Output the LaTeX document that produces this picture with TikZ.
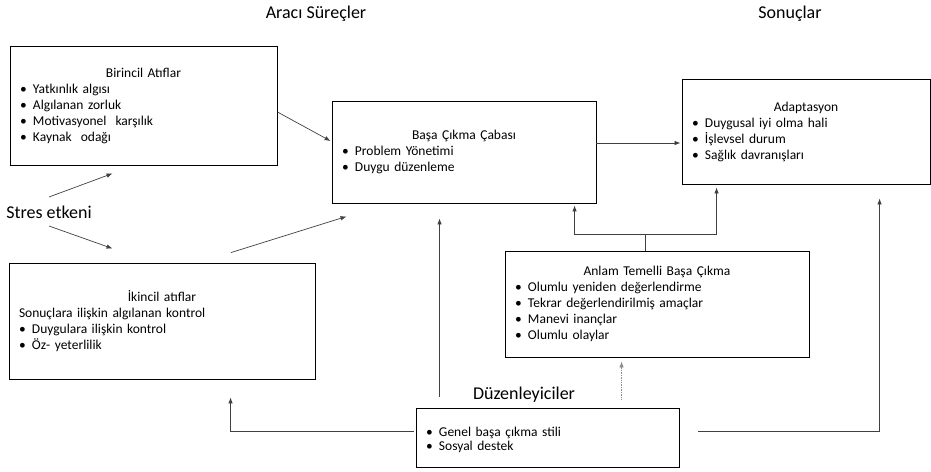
\documentclass[tikz,border=0pt]{standalone}
\usepackage{fontspec}
\setmainfont{Carlito}
\usetikzlibrary{calc, arrows.meta}
\newcommand{\itm}{\par\noindent\makebox[13pt][l]{\textbullet}}
\newcommand{\boxtitle}[1]{{\centering #1\par}}

\begin{document}
\begin{tikzpicture}[x=1pt, y=-1pt,
    block/.style={rectangle, draw, line width=0.9pt, inner xsep=10pt, inner ysep=0pt, align=left, font=\fontsize{13.5}{16}\selectfont},
    head/.style={inner sep=0pt, font=\fontsize{18}{21}\selectfont},
    link/.style={draw, black!75, line width=0.7pt},
    line/.style={link, -{Latex[length=6pt, width=4.5pt]}},
    dotline/.style={draw, black!45, line width=0.7pt, densely dotted, -{Latex[length=6pt, width=4.5pt]}}]

    \useasboundingbox (0,0) rectangle (931,471);

    \node [head] (arac) at (316,14) {Aracı Süreçler};
    \node [head] (sonuc) at (790,14) {Sonuçlar};
    \node [head] (stres) at (49,212) {Stres etkeni};

    \node [block, text width=247pt, minimum height=119pt] (bir) at (143.5,105.5) {\boxtitle{Birincil Atıflar}\itm Yatkınlık algısı\itm Algılanan zorluk\itm Motivasyonel\ \ karşılık\itm Kaynak\ \ odağı};
    \node [block, text width=244pt, minimum height=102pt] (basa) at (464,152) {\boxtitle{Başa Çıkma Çabası}\itm Problem Yönetimi\itm Duygu düzenleme};
    \node [block, text width=228pt, minimum height=105pt] (adapt) at (806,131.5) {\boxtitle{Adaptasyon}\itm Duygusal iyi olma hali\itm İşlevsel durum\itm Sağlık davranışları};
    \node [block, text width=286pt, minimum height=116pt] (ikin) at (162,321) {\boxtitle{İkincil atıflar}Sonuçlara ilişkin algılanan kontrol\itm Duygulara ilişkin kontrol\itm Öz- yeterlilik};
    \node [block, text width=284pt, minimum height=106pt] (anlam) at (657,304) {\boxtitle{Anlam Temelli Başa Çıkma}\itm Olumlu yeniden değerlendirme\itm Tekrar değerlendirilmiş amaçlar\itm Manevi inançlar\itm Olumlu olaylar};
    \node [block, text width=243pt, minimum height=59pt, font=\fontsize{13.5}{14}\selectfont] (duz) at (547.5,437.5) {\itm Genel başa çıkma stili\itm Sosyal destek};
    \node [head] (duzlbl) at (524,395) {Düzenleyiciler};

    \coordinate (split) at ($(anlam.north west)+(141,-16)$);

    \path [line] ($(stres.center)+(0,-15)$) -- ($(bir.south west)+(103,8)$);
    \path [line] ($(stres.center)+(0,14)$) -- ($(ikin.north west)+(104,-14)$);
    \path [line] ($(bir.east)+(0,6.5)$) -- ($(basa.west)+(-1,-11)$);
    \path [line] ($(ikin.north)+(69,-10)$) -- ($(basa.south west)+(15,13)$);
    \path [line] ($(basa.east)+(0,-9)$) -- ($(adapt.west)+(-1,11.5)$);
    \path [link] (anlam.north -| split) -- (split);
    \path [line] (split) -| ($(basa.south west)+(243,2)$);
    \path [line] (split) -| ($(adapt.south west)+(35,3)$);
    \path [line] ($(duz.north west)+(24,-11)$) -- ($(basa.south west)+(108,15)$);
    \path [dotline] ($(duz.north west)+(206,-8)$) -- ($(anlam.south west)+(117,4)$);
    \path [line] ($(duz.west)+(-2,-6)$) -| ($(ikin.south west)+(222,18)$);
    \path [line] ($(duz.east)+(19,-6)$) -| ($(adapt.south west)+(198,14)$);
\end{tikzpicture}
\end{document}
